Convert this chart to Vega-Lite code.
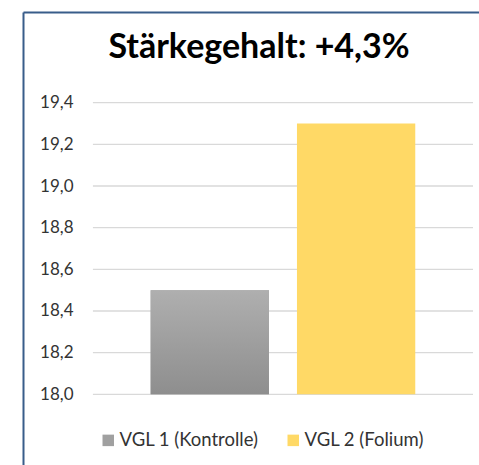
{
  "$schema": "https://vega.github.io/schema/vega-lite/v6.json",
  "width": 456,
  "height": 453,
  "autosize": "none",
  "padding": {"left": 23, "top": 12, "right": 0, "bottom": 0},
  "background": "white",
  "config": {
    "view": {"stroke": null},
    "font": "Lato",
    "locale": {"number": {"decimal": ",", "thousands": ".", "grouping": [3], "currency": ["", " €"]}}
  },
  "title": {
    "text": "Stärkegehalt: +4,3%",
    "font": "Lato",
    "fontSize": 34,
    "fontWeight": "bold",
    "color": "#000000",
    "anchor": "middle",
    "frame": "group",
    "offset": -46,
    "baseline": "alphabetic",
    "dx": 8,
    "dy": 33.5
  },
  "layer": [
    {
      "data": {"values": [{"t": 18.0}, {"t": 18.2}, {"t": 18.4}, {"t": 18.6}, {"t": 18.8}, {"t": 19.0}, {"t": 19.2}, {"t": 19.4}]},
      "mark": {"type": "rule", "color": "#D9D9D9", "strokeWidth": 1.3},
      "encoding": {
        "y": {"field": "t", "type": "quantitative"},
        "x": {"datum": "VGL 1 (Kontrolle)", "type": "nominal", "bandPosition": -0.488},
        "x2": {"datum": "VGL 2 (Folium)", "bandPosition": 1.488}
      }
    },
    {
      "data": {"values": [
        {"series": "VGL 1 (Kontrolle)", "value": 18.5},
        {"series": "VGL 2 (Folium)", "value": 19.3}
      ]},
      "layer": [
        {
          "mark": {"type": "bar"},
          "encoding": {
            "x": {
              "field": "series", "type": "nominal", "sort": null,
              "scale": {"paddingInner": 0.1914, "paddingOuter": 0.6541, "align": 0.667},
              "axis": {"orient": "top", "labels": false, "ticks": false, "title": null, "domain": true, "domainColor": "#385D8A", "domainWidth": 2, "grid": false}
            },
            "y": {
              "field": "value", "type": "quantitative",
              "scale": {"domain": [17.6606, 19.8354], "nice": false, "zero": false},
              "axis": {
                "values": [18.0, 18.2, 18.4, 18.6, 18.8, 19.0, 19.2, 19.4],
                "format": ".1f", "grid": false, "ticks": false, "tickSize": 0,
                "labelPadding": -50, "labelFontSize": 17, "labelFont": "Lato", "labelColor": "#333333",
                "title": null, "domain": true, "domainColor": "#385D8A", "domainWidth": 2
              }
            },
            "y2": {"datum": 18.0},
            "color": {
              "field": "series", "type": "nominal", "sort": null,
              "scale": {"range": ["#A0A0A0", "#FFD966"]},
              "legend": {
                "orient": "none", "legendX": 76, "legendY": 419, "direction": "horizontal",
                "title": null, "symbolType": "square", "symbolSize": 132,
                "labelFontSize": 18.5, "labelFont": "Lato", "labelColor": "#333333",
                "columnPadding": 25, "labelOffset": 2, "padding": 0, "symbolStrokeWidth": 0
              }
            }
          }
        },
        {
          "transform": [{"filter": "datum.series === 'VGL 1 (Kontrolle)'"}],
          "mark": {
            "type": "bar",
            "fill": {"gradient": "linear", "x1": 0, "y1": 0, "x2": 0, "y2": 1,
              "stops": [{"offset": 0, "color": "#AFAFAF"}, {"offset": 1, "color": "#8E8E8E"}]}
          },
          "encoding": {
            "x": {"field": "series", "type": "nominal", "sort": null},
            "y": {"field": "value", "type": "quantitative"},
            "y2": {"datum": 18.0}
          }
        }
      ]
    }
  ]
}
